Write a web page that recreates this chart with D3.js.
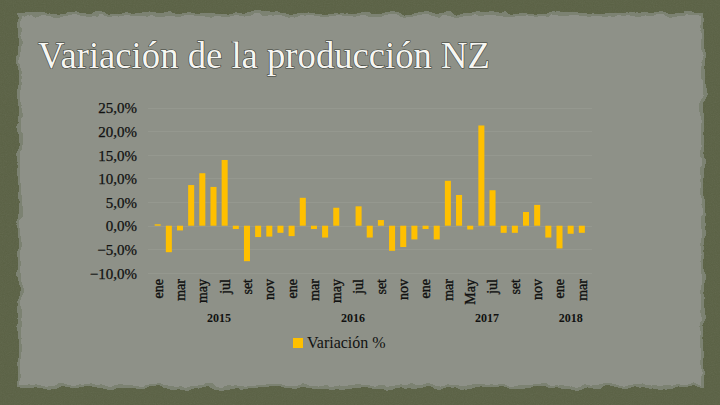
<!DOCTYPE html>
<html>
<head>
<meta charset="utf-8">
<script src="https://cdn.jsdelivr.net/npm/d3@7"></script>
<style>
  html, body { margin: 0; padding: 0; background: #5a6144; }
  svg { display: block; }
</style>
</head>
<body>
<svg id="chart" width="720" height="405"></svg>
<script>
// Data
const years = ["2015", "2016", "2017", "2018"];
const monthsPerYear = [12, 12, 12, 3];
const tickLabels = ["ene", "mar", "may", "jul", "set", "nov",
                    "ene", "mar", "may", "jul", "set", "nov",
                    "ene", "mar", "May", "jul", "set", "nov",
                    "ene", "mar"];
const values = [
  0.3, -5.6, -1.0, 8.6, 11.1, 8.2, 13.9, -0.7, -7.5, -2.4, -2.3, -1.5,   // 2015
  -2.2, 5.9, -0.7, -2.5, 3.8, 0.0, 4.1, -2.5, 1.2, -5.3, -4.5, -2.9,     // 2016
  -0.7, -2.9, 9.5, 6.5, -0.8, 21.2, 7.5, -1.5, -1.5, 2.9, 4.4, -2.5,     // 2017
  -4.8, -1.7, -1.5                                                       // 2018
];
const yTicks = [-10, -5, 0, 5, 10, 15, 20, 25];
const seriesName = "Variación %";
const title = "Variación de la producción NZ";

// categories: one per month
const categories = [];
years.forEach(function(yr, i) {
  for (let m = 0; m < monthsPerYear[i]; m++) categories.push(yr + "-" + m);
});

const svg = d3.select("#chart");
const serif = "'Liberation Serif', 'DejaVu Serif', serif";

//* Background *//
const defs = svg.append("defs");
const rough = defs.append("filter").attr("id", "rough")
    .attr("x", "-5%").attr("y", "-5%").attr("width", "110%").attr("height", "110%");
rough.append("feTurbulence").attr("type", "fractalNoise")
    .attr("baseFrequency", "0.06").attr("numOctaves", 3).attr("seed", 4).attr("result", "n");
rough.append("feDisplacementMap").attr("in", "SourceGraphic").attr("in2", "n")
    .attr("scale", 9).attr("xChannelSelector", "R").attr("yChannelSelector", "G");

const grain = defs.append("filter").attr("id", "grain");
grain.append("feTurbulence").attr("type", "fractalNoise")
    .attr("baseFrequency", "0.9").attr("numOctaves", 2).attr("seed", 2);
grain.append("feColorMatrix").attr("type", "saturate").attr("values", 0);

svg.append("rect").attr("width", 720).attr("height", 405).attr("fill", "#5a6144");
svg.append("rect").attr("width", 720).attr("height", 405)
    .attr("filter", "url(#grain)").attr("opacity", 0.08);

// torn paper panel
svg.append("rect")
    .attr("x", 18).attr("y", 13).attr("width", 686).attr("height", 375)
    .attr("fill", "#7c8272").attr("filter", "url(#rough)");
svg.append("rect")
    .attr("x", 21).attr("y", 16).attr("width", 680).attr("height", 369)
    .attr("fill", "#8e9188").attr("filter", "url(#rough)");

//* Scales *//
const x = d3.scaleBand()
    .domain(categories)
    .range([152.1, 587.4])
    .paddingInner(0.46)
    .paddingOuter(0.23);

const y = d3.scaleLinear()
    .domain([-10, 25])
    .range([273, 107.5]);

const g = svg.append("g");

// faint gridlines
g.selectAll("line.grid")
    .data(yTicks)
    .enter().append("line")
    .attr("class", "grid")
    .attr("x1", 148).attr("x2", 592)
    .attr("y1", function(d) { return Math.round(y(d)) + 0.5; })
    .attr("y2", function(d) { return Math.round(y(d)) + 0.5; })
    .attr("stroke", "#95988f")
    .attr("stroke-width", 1);

// Y axis
const yAxis = d3.axisLeft(y)
    .tickValues(yTicks)
    .tickSize(0)
    .tickPadding(0)
    .tickFormat(function(d) { return d3.format(".1f")(d).replace(".", ",") + "%"; });

const yAxisApp = g.append("g")
    .attr("class", "y axis")
    .attr("transform", "translate(137,0)")
    .call(yAxis);
yAxisApp.select(".domain").remove();
yAxisApp.attr("font-family", serif);
yAxisApp.selectAll("text")
    .attr("font-family", serif)
    .attr("font-size", "15px")
    .attr("fill", "#111")
    .attr("stroke", "#111")
    .attr("stroke-width", 0.25)
    .attr("dy", "0.35em");

// Bars
g.append("g")
    .selectAll("rect")
    .data(values)
    .enter().append("rect")
    .attr("x", function(d, i) { return x(categories[i]); })
    .attr("y", function(d) { return y(Math.max(0, d)); })
    .attr("width", x.bandwidth())
    .attr("height", function(d) { return Math.abs(y(d) - y(0)); })
    .attr("fill", "#ffc000");

// X tick labels (every second month)
g.append("g")
    .selectAll("text")
    .data(tickLabels)
    .enter().append("text")
    .attr("transform", function(d, i) {
        const c = categories[i * 2];
        return "translate(" + (x(c) + x.bandwidth() / 2) + ",279) rotate(-90)";
    })
    .attr("text-anchor", "end")
    .attr("dy", "0.35em")
    .attr("font-family", serif)
    .attr("font-size", "14px")
    .attr("fill", "#111")
    .attr("stroke", "#111")
    .attr("stroke-width", 0.35)
    .text(function(d) { return d; });

// Year labels, centred under each group
let start = 0;
years.forEach(function(yr, i) {
    const first = categories[start];
    const last = categories[start + monthsPerYear[i] - 1];
    const cx = (x(first) + x(last) + x.bandwidth()) / 2;
    g.append("text")
        .attr("x", cx)
        .attr("y", 322)
        .attr("text-anchor", "middle")
        .attr("font-family", serif)
        .attr("font-size", "12px")
        .attr("font-weight", "bold")
        .attr("fill", "#111")
        .text(yr);
    start += monthsPerYear[i];
});

// Legend
const legend = g.append("g").attr("transform", "translate(293,338)");
legend.append("rect")
    .attr("width", 10).attr("height", 10)
    .attr("fill", "#ffc000");
legend.append("text")
    .attr("x", 14).attr("y", 10)
    .attr("font-family", serif)
    .attr("font-size", "16px")
    .attr("fill", "#111")
    .text(seriesName);

// Title
svg.append("text")
    .attr("x", 38)
    .attr("y", 68)
    .attr("font-family", serif)
    .attr("font-size", "37px")
    .attr("fill", "#f6f6f2")
    .attr("stroke", "#3a3d36")
    .attr("stroke-width", 1.2)
    .attr("paint-order", "stroke")
    .attr("textLength", 452)
    .attr("lengthAdjust", "spacingAndGlyphs")
    .text(title);
</script>
</body>
</html>
